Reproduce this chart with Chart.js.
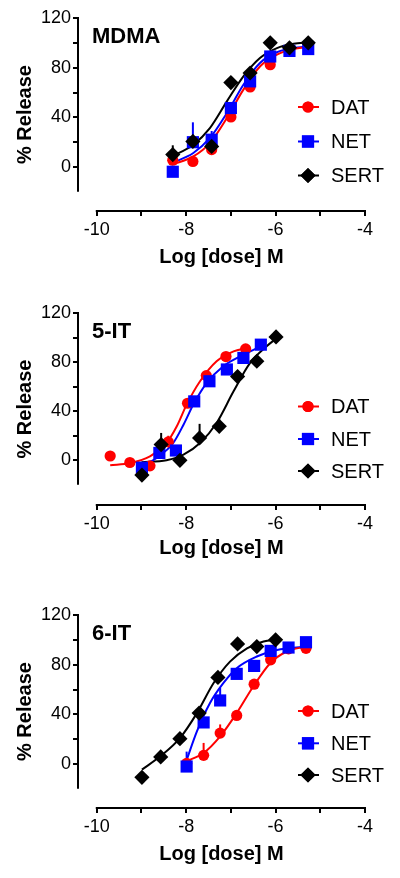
<!DOCTYPE html>
<html><head><meta charset="utf-8">
<script src="https://cdn.jsdelivr.net/npm/chart.js@4.4.1/dist/chart.umd.min.js"></script>
<style>
html,body{margin:0;padding:0;background:#fff;}
body{width:400px;height:878px;position:relative;overflow:hidden;}
canvas{position:absolute;left:0;}
</style></head><body>
<canvas id="c1" width="400" height="290" style="top:0px"></canvas>
<canvas id="c2" width="400" height="290" style="top:290px"></canvas>
<canvas id="c3" width="400" height="298" style="top:580px"></canvas>
<script>
// ---------- data ----------
const seriesNames = ['DAT', 'NET', 'SERT'];
const panelTitles = ['MDMA', '5-IT', '6-IT'];
const yTicks = [0, 20, 40, 60, 80, 100, 120];
const yLabelled = [0, 40, 80, 120];
const xTicks = [-10, -9, -8, -7, -6, -5, -4];
const xLabelled = [-10, -8, -6, -4];

// MDMA
const mdmaDose = [-8.30, -7.85, -7.43, -7.00, -6.57, -6.12, -5.69, -5.27];
const mdmaDAT  = [5.5, 4.5, 14, 40.3, 64.5, 82.4, 94, 95.5];
const mdmaNET  = [-3.8, 20, 22, 47.5, 69, 89, 93.5, 95];
const mdmaSERT = [10, 20.6, 16.6, 68, 75.7, 100, 96, 100];
const mdmaErrDAT  = [0, 0, 0, 0, 0, 0, 0, 0];
const mdmaErrNET  = [0, 16, 7, 0, 0, 0, 0, 0];
const mdmaErrSERT = [7.5, 0, 0, 0, 0, 0, 0, 0];
const mdmaFitDATx  = [-8.32, -7.84, -7.47, -7.09, -6.72, -6.35, -5.97, -5.60, -5.27];
const mdmaFitDATy  = [1.9, 8.6, 19.3, 39.5, 62.3, 81, 90.5, 95, 96.6];
const mdmaFitNETx  = [-8.32, -7.84, -7.47, -7.09, -6.72, -6.35, -5.97, -5.60, -5.27];
const mdmaFitNETy  = [3.2, 11.3, 23.4, 43.5, 66.3, 83.8, 92.4, 95.8, 97];
const mdmaFitSERTx = [-8.32, -7.84, -7.47, -7.09, -6.72, -6.35, -5.97, -5.60, -5.27];
const mdmaFitSERTy = [8.6, 18, 31.4, 52.9, 73, 87.8, 95.8, 99.3, 100.4];

// 5-IT
const it5DoseDAT  = [-9.70, -9.26, -8.81, -8.40, -7.97, -7.55, -7.11, -6.67];
const it5DoseNET  = [-8.99, -8.60, -8.23, -7.82, -7.48, -7.09, -6.72, -6.33];
const it5DoseSERT = [-8.99, -8.56, -8.14, -7.70, -7.26, -6.85, -6.42, -5.99];
const it5DAT  = [3.5, -1.8, -4.5, 15, 46.5, 69, 84.5, 90.7];
const it5NET  = [-6, 6, 8, 48, 64.4, 74, 83.4, 94.2];
const it5SERT = [-12, 12.8, 0, 18.2, 27.7, 68.2, 80.7, 100.5];
const it5ErrDAT  = [0, 0, 0, 5, 0, 0, 0, 0];
const it5ErrNET  = [0, 0, 0, 3, 0, 0, 4, 0];
const it5ErrSERT = [9, 9.5, 0, 11.5, 6, 0, 0, 0];
const it5FitDATx  = [-9.70, -9.25, -8.81, -8.44, -8.21, -7.99, -7.69, -7.32, -6.94, -6.65];
const it5FitDATy  = [-4.1, -2.2, 3.3, 14.1, 27.7, 45.4, 64.4, 80.7, 88.8, 91.5];
const it5FitNETx  = [-9.0, -8.66, -8.29, -8.06, -7.84, -7.54, -7.17, -6.79, -6.33];
const it5FitNETy  = [-4.9, 1.9, 14.1, 29, 45.4, 63, 76.6, 84.7, 92.9];
const it5FitSERTx = [-9.0, -8.44, -8.06, -7.69, -7.32, -6.94, -6.57, -6.20, -5.97];
const it5FitSERTy = [-1.6, 0, 4.6, 14.1, 30.4, 56.2, 79.3, 92.9, 99.7];

// 6-IT
const it6DoseDAT  = [-7.99, -7.61, -7.24, -6.87, -6.48, -6.11, -5.71, -5.32];
const it6DoseNET  = [-7.99, -7.61, -7.24, -6.87, -6.48, -6.11, -5.71, -5.32];
const it6DoseSERT = [-8.99, -8.57, -8.14, -7.71, -7.29, -6.85, -6.42, -6.00];
const it6DAT  = [0.5, 7, 24.9, 39.1, 64.3, 83.9, 92.7, 93.2];
const it6NET  = [-2, 33.5, 51.2, 72.6, 79, 91.1, 93.8, 98.1];
const it6SERT = [-10.7, 5.7, 20.4, 41, 69.7, 96.7, 94.6, 100];
const it6ErrDAT  = [0, 10, 7, 0, 0, 0, 0, 0];
const it6ErrNET  = [12, 0, 10, 0, 0, 0, 0, 0];
const it6ErrSERT = [0, 0, 0, 0, 0, 0, 0, 0];
const it6FitDATx  = [-8.0, -7.61, -7.24, -6.87, -6.50, -6.12, -5.75, -5.32];
const it6FitDATy  = [2.2, 8.9, 22.3, 41, 62.4, 81.2, 90.6, 94.6];
const it6FitNETx  = [-8.0, -7.76, -7.47, -7.17, -6.87, -6.42, -5.97, -5.32];
const it6FitNETy  = [2.2, 26.3, 49, 65.1, 77.2, 86.6, 91.9, 94.6];
const it6FitSERTx = [-8.99, -8.58, -8.14, -7.76, -7.39, -7.02, -6.64, -6.27, -5.97];
const it6FitSERTy = [-4.5, 6.2, 20.9, 41, 65.1, 82.5, 93.2, 98.6, 100];

// ---------- styles ----------
const COLORS = ['#ff0000', '#0000ff', '#000000'];
const STYLES = ['circle', 'rect', 'rectRot'];
const RADII = [5.6, 8.6, 7.6];
const FONT = '"Liberation Sans", Arial, Helvetica, sans-serif';

Chart.defaults.font.family = FONT;
Chart.defaults.color = '#000';

const decoPlugin = {
  id: 'deco',
  beforeDatasetsDraw(chart) {
    const {ctx, chartArea, scales} = chart;
    const x = scales.x, y = scales.y;
    ctx.save();
    ctx.strokeStyle = '#000';
    ctx.lineWidth = 2;
    ctx.lineCap = 'butt';
    ctx.beginPath();
    ctx.moveTo(chartArea.left, y.getPixelForValue(-20));
    ctx.lineTo(chartArea.left, y.getPixelForValue(120) - 1);
    ctx.moveTo(x.getPixelForValue(-10) - 1, chartArea.bottom);
    ctx.lineTo(x.getPixelForValue(-4) + 1, chartArea.bottom);
    ctx.stroke();
    // error bars (upper)
    chart.data.datasets.forEach((ds, di) => {
      if (!ds.errorBars) return;
      const meta = chart.getDatasetMeta(di);
      ctx.strokeStyle = ds.borderColor;
      ctx.lineWidth = 2;
      ds.errorBars.forEach((e, k) => {
        if (!e) return;
        const pt = meta.data[k];
        const top = y.getPixelForValue(ds.data[k].y + e);
        ctx.beginPath();
        ctx.moveTo(pt.x, pt.y);
        ctx.lineTo(pt.x, top);
        ctx.stroke();
      });
    });
    ctx.restore();
  },
  afterDraw(chart) {
    const {ctx, chartArea} = chart;
    const o = chart.options.plugins.deco;
    ctx.save();
    ctx.fillStyle = '#000';
    ctx.font = 'bold 22px ' + FONT;
    ctx.textAlign = 'left';
    ctx.textBaseline = 'alphabetic';
    ctx.fillText(o.title, chartArea.left + 14, chartArea.top + 25);
    // legend
    const markers = chart.data.datasets.filter(d => d.isMarker);
    markers.forEach((d, i) => {
      const cy = o.legendY[i];
      const cx = 308;
      ctx.strokeStyle = d.borderColor;
      ctx.lineWidth = 2;
      ctx.beginPath();
      ctx.moveTo(cx - 10, cy);
      ctx.lineTo(cx + 11, cy);
      ctx.stroke();
      ctx.fillStyle = d.backgroundColor;
      Chart.helpers.drawPoint(ctx, {pointStyle: d.pointStyle, radius: d.pointRadius, borderWidth: 0, rotation: 0}, cx, cy);
      ctx.fill();
      ctx.fillStyle = '#000';
      ctx.font = '20px ' + FONT;
      ctx.textBaseline = 'middle';
      ctx.fillText(d.label, 331, cy + 1);
    });
    ctx.restore();
  }
};

function buildPanel(canvasId, L, S) {
  const datasets = [];
  S.forEach((s, i) => {
    datasets.push({
      label: s.name + ' fit',
      data: s.fitX.map((v, k) => ({x: v, y: s.fitY[k]})),
      showLine: true, pointRadius: 0, pointHoverRadius: 0,
      borderColor: COLORS[i], backgroundColor: COLORS[i], borderWidth: 2,
      cubicInterpolationMode: 'monotone', fill: false, order: 10 + i
    });
  });
  S.forEach((s, i) => {
    datasets.push({
      label: s.name,
      data: s.dose.map((v, k) => ({x: v, y: s.values[k]})),
      showLine: false, pointStyle: STYLES[i], pointRadius: RADII[i], pointHoverRadius: RADII[i],
      backgroundColor: COLORS[i], borderColor: COLORS[i], borderWidth: 0,
      order: 5 - i, isMarker: true, errorBars: s.err
    });
  });
  return new Chart(document.getElementById(canvasId), {
    type: 'scatter',
    data: {datasets},
    plugins: [decoPlugin],
    options: {
      responsive: false, animation: false, events: [],
      devicePixelRatio: 1,
      layout: {padding: {top: L.top, right: 35, left: 0, bottom: 0}},
      plugins: {legend: {display: false}, tooltip: {enabled: false},
        deco: {title: L.title, legendY: L.legendY}},
      scales: {
        x: {
          type: 'linear', min: -10.42, max: -4,
          afterBuildTicks: sc => { sc.ticks = xTicks.map(v => ({value: v})); },
          afterFit: sc => { sc.height = L.H - L.axisY; },
          ticks: {autoSkip: false, maxRotation: 0, minRotation: 0, color: '#000', font: {size: 18}, padding: 3,
            callback: v => xLabelled.includes(v) ? String(v) : ''},
          grid: {drawOnChartArea: false, drawTicks: true, tickLength: 5, color: '#000', lineWidth: 2},
          border: {display: false},
          title: {display: true, text: 'Log [dose] M', color: '#000', font: {size: 20, weight: 'bold'},
            padding: {top: 0, bottom: L.xTitlePad}}
        },
        y: {
          type: 'linear', min: L.yMin, max: 120,
          afterBuildTicks: sc => { sc.ticks = yTicks.map(v => ({value: v})); },
          afterFit: sc => { sc.width = 78; },
          ticks: {autoSkip: false, color: '#000', font: {size: 18}, padding: 2,
            callback: v => yLabelled.includes(v) ? String(v) : ''},
          grid: {drawOnChartArea: false, drawTicks: true, tickLength: 5, color: '#000', lineWidth: 2},
          border: {display: false},
          title: {display: true, text: '% Release', color: '#000', font: {size: 20, weight: 'bold'},
            padding: {top: 13, bottom: 0}}
        }
      }
    }
  });
}

buildPanel('c1', {title: panelTitles[0], H: 290, top: 18, axisY: 211, yMin: -35.4, xTitlePad: 21, legendY: [107, 141.5, 175.5]}, [
  {name: seriesNames[0], dose: mdmaDose, values: mdmaDAT, err: mdmaErrDAT, fitX: mdmaFitDATx, fitY: mdmaFitDATy},
  {name: seriesNames[1], dose: mdmaDose, values: mdmaNET, err: mdmaErrNET, fitX: mdmaFitNETx, fitY: mdmaFitNETy},
  {name: seriesNames[2], dose: mdmaDose, values: mdmaSERT, err: mdmaErrSERT, fitX: mdmaFitSERTx, fitY: mdmaFitSERTy}
]);
buildPanel('c2', {title: panelTitles[1], H: 290, top: 23, axisY: 215, yMin: -36.4, xTitlePad: 20, legendY: [116.5, 149, 181]}, [
  {name: seriesNames[0], dose: it5DoseDAT, values: it5DAT, err: it5ErrDAT, fitX: it5FitDATx, fitY: it5FitDATy},
  {name: seriesNames[1], dose: it5DoseNET, values: it5NET, err: it5ErrNET, fitX: it5FitNETx, fitY: it5FitNETy},
  {name: seriesNames[2], dose: it5DoseSERT, values: it5SERT, err: it5ErrSERT, fitX: it5FitSERTx, fitY: it5FitSERTy}
]);
buildPanel('c3', {title: panelTitles[2], H: 298, top: 35, axisY: 228, yMin: -35.4, xTitlePad: 12, legendY: [131, 163.3, 195]}, [
  {name: seriesNames[0], dose: it6DoseDAT, values: it6DAT, err: it6ErrDAT, fitX: it6FitDATx, fitY: it6FitDATy},
  {name: seriesNames[1], dose: it6DoseNET, values: it6NET, err: it6ErrNET, fitX: it6FitNETx, fitY: it6FitNETy},
  {name: seriesNames[2], dose: it6DoseSERT, values: it6SERT, err: it6ErrSERT, fitX: it6FitSERTx, fitY: it6FitSERTy}
]);
</script>
</body></html>
